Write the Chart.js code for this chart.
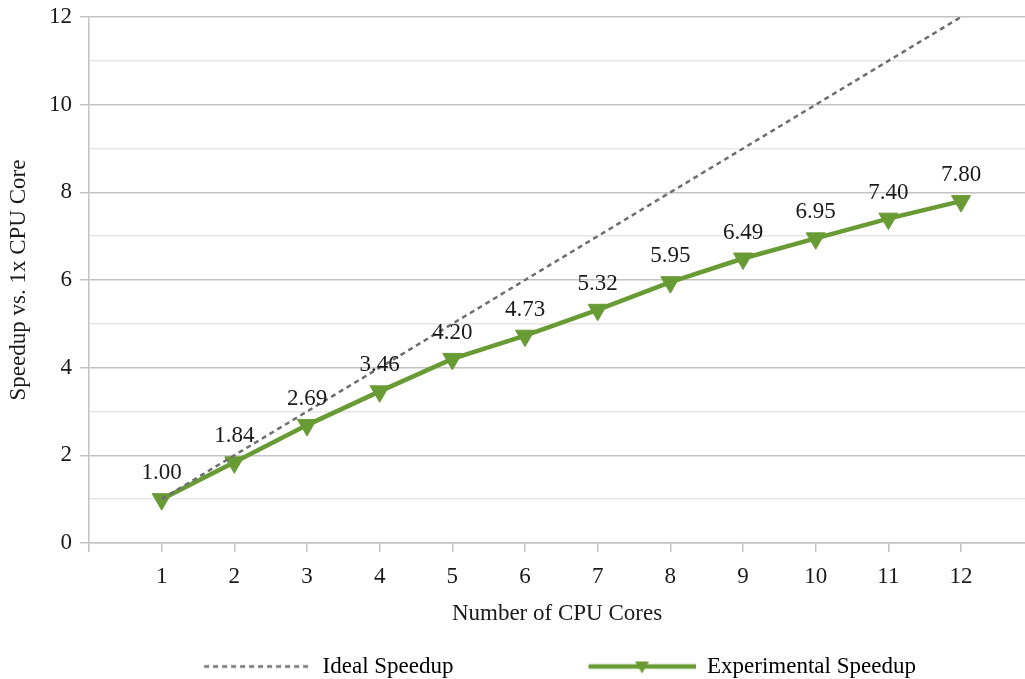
<!DOCTYPE html>
<html>
<head>
<meta charset="utf-8">
<script src="https://cdn.jsdelivr.net/npm/chart.js@4.4.1/dist/chart.umd.min.js"></script>
<style>
  html, body { margin: 0; padding: 0; background: #ffffff; }
  #wrap { width: 1025px; height: 679px; }
</style>
</head>
<body>
<div id="wrap"><canvas id="chart" width="1025" height="679"></canvas></div>
<script>
// Core counts and measured speedups
const cores = [1, 2, 3, 4, 5, 6, 7, 8, 9, 10, 11, 12];
const idealSpeedup = [1, 2, 3, 4, 5, 6, 7, 8, 9, 10, 11, 12];
const experimentalSpeedup = [1.00, 1.84, 2.69, 3.46, 4.20, 4.73, 5.32, 5.95, 6.49, 6.95, 7.40, 7.80];
const xTickValues = [0, 1, 2, 3, 4, 5, 6, 7, 8, 9, 10, 11, 12];
const seriesNames = ['Ideal Speedup', 'Experimental Speedup'];
const xTitle = 'Number of CPU Cores';
const yTitle = 'Speedup vs. 1x CPU Core';

const GREEN = '#699b35';
const DASH_GREY = '#6e6e6e';
const MAJOR_GRID = '#c3c3c3';
const MINOR_GRID = '#e6e6e6';
const TEXT = '#1a1a1a';
const FONT = "'Liberation Serif', 'Times New Roman', serif";
const FS = 23;

Chart.defaults.font.family = FONT;
Chart.defaults.font.size = FS;
Chart.defaults.color = TEXT;

// Legend swatches: a sample line (and marker) right-aligned in a wide box
const SWATCH_W = 202;
const SAMPLE_W = 107;
function makeSwatch(kind) {
  const c = document.createElement('canvas');
  c.width = SWATCH_W;
  c.height = 24;
  const g = c.getContext('2d');
  const y = 12;
  if (kind === 'dash') {
    g.strokeStyle = DASH_GREY;
    g.lineWidth = 2.5;
    g.setLineDash([5, 4]);
    g.beginPath();
    g.moveTo(SWATCH_W - SAMPLE_W, y);
    g.lineTo(SWATCH_W, y);
    g.stroke();
  } else {
    g.strokeStyle = GREEN;
    g.lineWidth = 4.5;
    g.beginPath();
    g.moveTo(SWATCH_W - SAMPLE_W, y);
    g.lineTo(SWATCH_W, y);
    g.stroke();
    const cx = SWATCH_W - SAMPLE_W / 2;
    g.fillStyle = GREEN;
    g.beginPath();
    g.moveTo(cx - 7, y - 5);
    g.lineTo(cx + 7, y - 5);
    g.lineTo(cx, y + 7);
    g.closePath();
    g.fill();
  }
  return c;
}
const swatches = [makeSwatch('dash'), makeSwatch('solid')];

// Value labels above the experimental points
const valueLabels = {
  id: 'valueLabels',
  afterDatasetsDraw(chart) {
    const meta = chart.getDatasetMeta(1);
    const ctx = chart.ctx;
    ctx.save();
    ctx.font = FS + 'px ' + FONT;
    ctx.fillStyle = TEXT;
    ctx.textAlign = 'center';
    ctx.textBaseline = 'middle';
    meta.data.forEach((pt, i) => {
      ctx.fillText(experimentalSpeedup[i].toFixed(2), pt.x, pt.y - 26);
    });
    ctx.restore();
  }
};

new Chart(document.getElementById('chart'), {
  type: 'line',
  data: {
    datasets: [
      {
        label: seriesNames[0],
        data: cores.map((c, i) => ({ x: c, y: idealSpeedup[i] })),
        borderColor: DASH_GREY,
        borderWidth: 2.5,
        borderDash: [5, 4],
        pointRadius: 0,
        fill: false,
        tension: 0
      },
      {
        label: seriesNames[1],
        data: cores.map((c, i) => ({ x: c, y: experimentalSpeedup[i] })),
        borderColor: GREEN,
        backgroundColor: GREEN,
        borderWidth: 4.5,
        pointStyle: 'triangle',
        rotation: 180,
        pointRadius: 11,
        pointBorderWidth: 1,
        pointBackgroundColor: GREEN,
        pointBorderColor: GREEN,
        fill: false,
        tension: 0
      }
    ]
  },
  options: {
    responsive: false,
    animation: false,
    layout: { autoPadding: false, padding: { top: 17, right: 0, bottom: -9, left: 0 } },
    scales: {
      x: {
        type: 'linear',
        min: 0,
        max: 12.88,
        afterBuildTicks(scale) {
          scale.ticks = xTickValues.map(v => ({ value: v }));
        },
        afterFit(scale) {
          scale.height = 72;
          scale.paddingLeft = 0;
          scale.paddingRight = 0;
        },
        ticks: {
          padding: 11,
          maxRotation: 0,
          autoSkip: false,
          callback: (v) => (v === 0 ? '' : String(v))
        },
        grid: {
          drawOnChartArea: false,
          drawTicks: true,
          tickLength: 9,
          tickColor: MAJOR_GRID,
          lineWidth: 1.5
        },
        border: { display: true, color: MAJOR_GRID, width: 1.5 },
        title: {
          display: true,
          text: xTitle,
          color: TEXT,
          font: { size: FS },
          padding: { top: 0, bottom: -13 }
        }
      },
      y: {
        min: 0,
        max: 12,
        afterFit(scale) {
          scale.width = 89;
          scale.paddingTop = 0;
          scale.paddingBottom = 0;
        },
        ticks: {
          stepSize: 1,
          padding: 8,
          callback: (v) => (v % 2 === 0 ? String(v) : '')
        },
        grid: {
          drawTicks: true,
          tickLength: 9,
          lineWidth: 1.5,
          color: (c) => (c.tick && c.tick.value % 2 === 0 ? MAJOR_GRID : MINOR_GRID),
          tickColor: (c) => (c.tick && c.tick.value % 2 === 0 ? MAJOR_GRID : 'rgba(0,0,0,0)')
        },
        border: { display: true, color: MAJOR_GRID, width: 1.5 },
        title: {
          display: true,
          text: yTitle,
          color: TEXT,
          font: { size: FS },
          padding: { top: 5, bottom: 0 }
        }
      }
    },
    plugins: {
      tooltip: { enabled: false },
      legend: {
        display: true,
        position: 'bottom',
        labels: {
          usePointStyle: true,
          pointStyleWidth: SWATCH_W,
          padding: 40,
          color: TEXT,
          font: { size: FS },
          generateLabels: (chart) => seriesNames.map((name, i) => ({
            text: name,
            pointStyle: swatches[i],
            fillStyle: 'rgba(0,0,0,0)',
            strokeStyle: 'rgba(0,0,0,0)',
            lineWidth: 0,
            datasetIndex: i,
            hidden: false
          }))
        }
      }
    }
  },
  plugins: [valueLabels]
});
</script>
</body>
</html>
